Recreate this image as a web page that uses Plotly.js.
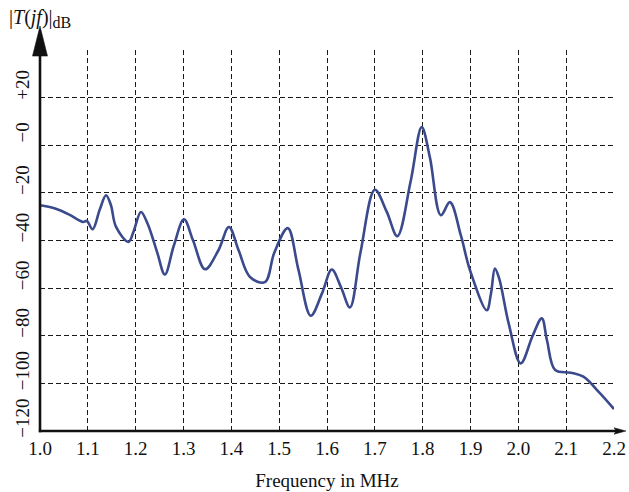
<!DOCTYPE html>
<html>
<head>
<meta charset="utf-8">
<script src="https://cdn.plot.ly/plotly-3.0.1.min.js"></script>
<style>html,body{margin:0;padding:0;background:#fff;}#chart{width:629px;height:492px;}</style>
</head>
<body>
<div id="chart"></div>
<script>
// Frequency (MHz) and magnitude |T(jf)| in dB
const freq = [1.000, 1.030, 1.060, 1.090, 1.098, 1.110, 1.125, 1.138, 1.148, 1.159, 1.185, 1.196, 1.211, 1.225, 1.245, 1.261, 1.280, 1.301, 1.320, 1.345, 1.373, 1.395, 1.415, 1.439, 1.470, 1.490, 1.518, 1.540, 1.566, 1.590, 1.610, 1.630, 1.648, 1.670, 1.700, 1.725, 1.747, 1.775, 1.798, 1.815, 1.838, 1.857, 1.880, 1.899, 1.934, 1.943, 1.951, 1.960, 1.980, 2.005, 2.030, 2.049, 2.060, 2.077, 2.110, 2.136, 2.170, 2.200];
const gainDb = [-25.2, -26.5, -29.0, -32.2, -31.8, -35.3, -27.0, -21.0, -25.0, -34.3, -40.6, -36.0, -28.0, -33.0, -45.0, -54.3, -42.0, -31.1, -40.0, -52.1, -44.1, -34.3, -44.0, -55.3, -57.5, -45.0, -34.8, -52.0, -71.6, -62.0, -52.2, -60.0, -68.1, -45.0, -18.7, -28.0, -38.2, -15.0, 7.6, -5.0, -29.4, -23.9, -38.0, -52.5, -69.3, -62.0, -51.8, -56.0, -75.0, -91.6, -80.0, -72.7, -82.0, -94.4, -95.5, -97.2, -104.0, -110.8];

const xTickVals = [1.0, 1.1, 1.2, 1.3, 1.4, 1.5, 1.6, 1.7, 1.8, 1.9, 2.0, 2.1, 2.2];
const xTickText = ['1.0', '1.1', '1.2', '1.3', '1.4', '1.5', '1.6', '1.7', '1.8', '1.9', '2.0', '2.1', '2.2'];
const yTickVals = [-120, -100, -80, -60, -40, -20, 0, 20];
const yTickText = ['\u2212120', '\u2212100', '\u221280', '\u221260', '\u221240', '\u221220', '\u22120', '+20'];

const serif = '"Liberation Serif", "Times New Roman", serif';

const trace = {
  x: freq, y: gainDb, type: 'scatter', mode: 'lines',
  line: {color: '#3B4A8C', width: 2.6, shape: 'spline', smoothing: 1},
  hoverinfo: 'skip'
};

// axis arrows in paper coordinates
const yTip = 1.063, yBase = 0.984, yHalf = 0.0131;
const xTip = 1.0209, xBase = 1.004, xHalf = 0.0085;

const layout = {
  width: 629, height: 492,
  margin: {l: 40, r: 15, t: 50, b: 61},
  paper_bgcolor: '#fff', plot_bgcolor: '#fff',
  showlegend: false,
  font: {family: serif, color: '#111', size: 19},
  xaxis: {
    range: [1.0, 2.2], tickvals: xTickVals, ticktext: xTickText,
    showgrid: true, gridcolor: '#1a1a1a', gridwidth: 1, griddash: '5px,3px',
    zeroline: false, showline: false, ticks: '',
    ticklabelstandoff: 4,
    tickfont: {family: serif, size: 19, color: '#111'},
    title: {text: 'Frequency in MHz', font: {family: serif, size: 19, color: '#111'}, standoff: 15},
    automargin: false,
    fixedrange: true
  },
  yaxis: {
    range: [-120, 40], tickvals: yTickVals, ticktext: yTickText,
    showgrid: true, gridcolor: '#1a1a1a', gridwidth: 1, griddash: '5px,3px',
    zeroline: false, showline: false, ticks: '',
    tickangle: -90, ticklabelshift: -10, ticklabelstandoff: 6,
    tickfont: {family: serif, size: 19, color: '#111'},
    fixedrange: true
  },
  shapes: [
    {type: 'line', xref: 'paper', yref: 'paper', x0: 0, x1: 0, y0: -0.003, y1: yBase + 0.005, line: {color: '#111', width: 2.6}},
    {type: 'path', xref: 'paper', yref: 'paper', path: `M ${-yHalf} ${yBase} L 0 ${yTip} L ${yHalf} ${yBase} Z`, fillcolor: '#111', line: {color: '#111', width: 0.5}},
    {type: 'line', xref: 'paper', yref: 'paper', x0: -0.002, x1: xBase + 0.003, y0: 0, y1: 0, line: {color: '#111', width: 2.4}},
    {type: 'path', xref: 'paper', yref: 'paper', path: `M ${xBase - 0.004} ${-xHalf} L ${xTip} 0 L ${xBase - 0.004} ${xHalf} L ${xBase} 0 Z`, fillcolor: '#111', line: {color: '#111', width: 0.5}}
  ],
  annotations: [
    {xref: 'paper', yref: 'paper', x: -0.058, y: 1.121, xanchor: 'left', yanchor: 'top', showarrow: false,
     text: '|<i>T</i>(<i>jf</i>)|<sub><span style="font-size:16px">dB</span></sub>', font: {family: serif, size: 20, color: '#111'}}
  ]
};

Plotly.newPlot('chart', [trace], layout, {displayModeBar: false, staticPlot: true});
</script>
</body>
</html>
